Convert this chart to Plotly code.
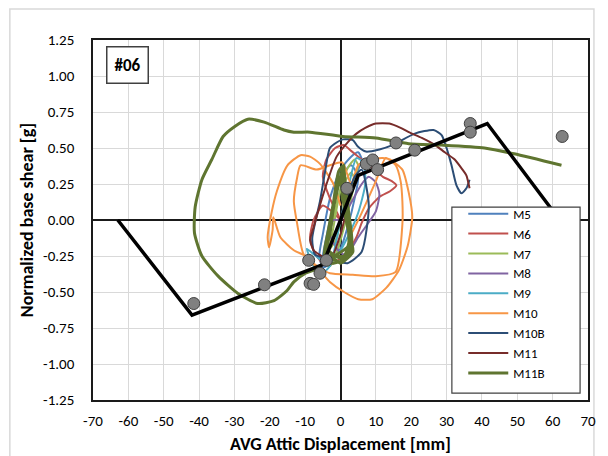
import plotly.graph_objects as go

# ---- data ----
series_names = ["M5", "M6", "M7", "M8", "M9", "M10", "M10B", "M11", "M11B"]
series_colors = ["#4F81BD", "#C0504D", "#9BBB59", "#8064A2", "#4BACC6",
                 "#F79646", "#2C4D75", "#772C2A", "#5F7530"]

m5_x = [0, 3, 5, 6, 5, 3, 0, -3, -5, -6, -5, -3, 0, 2, 4, 5, 3, 0, -2, -4, -5, -3, 0]
m5_y = [0, 0.2, 0.35, 0.42, 0.47, 0.44, 0.35, 0.15, -0.1, -0.25, -0.33, -0.3, -0.2,
        -0.05, 0.15, 0.3, 0.38, 0.3, 0.1, -0.12, -0.28, -0.32, -0.15]

m6_x = [0, -3, -5, -4, -1.5, 1, 3, 6, 9, 12, 14.5, 15.8, 14, 11, 8, 6, 4.5, 2, -2, -5,
        -7.5, -8.6, -7.6, -5, -2, 0]
m6_y = [0, 0.15, 0.3, 0.42, 0.5, 0.52, 0.48, 0.42, 0.36, 0.3, 0.27, 0.24, 0.2, 0.16,
        0.08, -0.02, -0.12, -0.22, -0.3, -0.3, -0.22, -0.12, 0.0, 0.1, 0.05, 0]

m7_x = [0, 2, 4, 5, 4, 2, 0, -2, -4, -4.5, -3, -1, 1, 3, 4, 3, 0, -2, -3, -1, 0]
m7_y = [0, 0.15, 0.3, 0.38, 0.42, 0.36, 0.22, 0.02, -0.18, -0.3, -0.32, -0.22, -0.05,
        0.15, 0.28, 0.33, 0.2, -0.05, -0.2, -0.12, 0]

m8_x = [0, 3, 6, 8, 10, 11, 10, 7, 5, 3, 1, -1, -3, -2, 0]
m8_y = [0, 0.12, 0.25, 0.3, 0.26, 0.18, 0.06, -0.05, -0.12, -0.2, -0.24, -0.2, -0.1, 0.0, 0]

m9_x = [0, 2, 4.5, 6.5, 7, 5, 2, -1, -4, -7, -9.5, -8, -5.8, -3, 0]
m9_y = [0, 0.2, 0.43, 0.40, 0.25, 0.05, -0.12, -0.25, -0.3, -0.25, -0.2, -0.3, -0.38, -0.32, 0]

m10_x = [0, -2, -5.8, -8.6, -11.3, -15, -18, -19.5, -20.6, -20.2, -19.2, -19, -17,
         -13.2, -9.9, -6, -3, 1, 5, 9, 13, 16.5, 19, 20.3, 19.3, 17.5, 14, 11.9, 8, 5,
         3, 0.5, -3, -6.7, -11.3, -12.3, -13.2, -12.3, -10.4, -6, -3, 3.5, 10, 15.6,
         17.5, 17.5, 17, 15.6, 12.8, 10, 6, 3]
m10_y = [0.1, 0.25, 0.39, 0.44, 0.45, 0.38, 0.2, 0.05, -0.12, -0.19, -0.07, 0.02, -0.12,
         -0.21, -0.25, -0.35, -0.43, -0.5, -0.55, -0.55, -0.47, -0.35, -0.18, 0.02, 0.19,
         0.35, 0.42, 0.43, 0.42, 0.38, 0.25, 0.4, 0.38, 0.35, 0.38, 0.29, 0.13, -0.02,
         -0.24, -0.33, -0.37, -0.38, -0.39, -0.36, -0.03, 0.13, 0.27, 0.38, 0.43, 0.27,
         0.05, -0.1]

m10b_x = [0, 4, 6, 8, 6, 2, -3, -7.2, -8, -5.8, -4.4, -3, -1, 0.7, 3.5, 4.9, 7.2, 11,
          14.7, 21, 26.3, 28.6, 30, 31.4, 32.8, 34.2, 35.6, 36.5]
m10b_y = [0, 0.3, 0.35, 0.1, -0.22, -0.3, -0.27, -0.24, -0.13, 0.13, 0.33, 0.5, 0.54,
          0.56, 0.555, 0.51, 0.475, 0.49, 0.52, 0.6, 0.625, 0.59, 0.5, 0.38, 0.24, 0.185,
          0.22, 0.28]

m11_x = [2, 0, -3, -6, -7.6, -8.6, -7.6, -4.8, -1.1, 2.6, 4.5, 7, 10, 13.8, 17, 19.3,
         23, 26.8, 29.5, 32.3, 34.5, 35.6, 36.5]
m11_y = [0.1, -0.1, -0.28, -0.24, -0.21, -0.14, -0.05, 0.185, 0.44, 0.555, 0.6, 0.64,
         0.67, 0.67, 0.64, 0.61, 0.57, 0.52, 0.47, 0.42, 0.35, 0.31, 0.22]

# M11B: dense narrow cycles in the middle, then the one big loop
m11b_x = [-1, -4.5, -3.5, -2, -0.5, 1, 0.5, 1.5, 2.5, 3, 0.5, -3.8, -3, -2, -0.8, 0,
          1.2, 1.5, 2, 2.2, -1, -4, -3.3, -2.5, -1.5, -0.5, 0.8, 1.8, 2.8, 1, -2, -4.2,
          -3, -2.2, -1.5, -0.2, 0.5, 1.2, 2, 3.5, 0, -2.5, -4.6, -3.8, -2.8, -1.2, 0.2,
          0.9, 1.5, 2.6, 3.2, 1.5, -2, -4.8, -6.7, -9.9, -13.2, -15.1, -18.8, -23.4,
          -29, -34.6, -39.2, -41.3, -41.1, -39.2, -36.4, -33.2, -29.9, -26.2, -21.6,
          -16, -13.2, -8.6, 0.7, 10, 19.3, 28.6, 40.7, 49.1, 62.5]
m11b_y = [-0.28, -0.25, -0.08, 0.12, 0.34, 0.38, 0.15, 0.08, -0.05, -0.2, -0.27, -0.2,
          -0.05, 0.12, 0.26, 0.3, 0.25, 0.1, 0.0, -0.18, -0.24, -0.28, -0.12, 0.02,
          0.14, 0.25, 0.33, 0.12, -0.1, -0.25, -0.25, -0.24, -0.1, 0.05, 0.16, 0.28,
          0.2, 0.05, -0.05, -0.22, -0.3, -0.26, -0.3, -0.18, -0.02, 0.18, 0.32, 0.36,
          0.2, 0.0, -0.15, -0.27, -0.3, -0.3, -0.34, -0.37, -0.43, -0.49, -0.56, -0.58,
          -0.51, -0.39, -0.25, -0.09, 0.09, 0.28, 0.42, 0.58, 0.65, 0.7, 0.68, 0.625,
          0.61, 0.61, 0.58, 0.57, 0.53, 0.52, 0.5, 0.46, 0.38]

series_x = [m5_x, m6_x, m7_x, m8_x, m9_x, m10_x, m10b_x, m11_x, m11b_x]
series_y = [m5_y, m6_y, m7_y, m8_y, m9_y, m10_y, m10b_y, m11_y, m11b_y]

# backbone curve and gray points
backbone_x = [-63, -42, -5, 5, 41.5, 62]
backbone_y = [0, -0.66, -0.31, 0.31, 0.67, 0]

points_x = [-41.5, -21.5, -9.0, -4.0, -5.8, -8.6, -7.6, 1.8, 7.3, 9.1, 10.5, 15.7,
            21.0, 36.7, 36.7, 62.7]
points_y = [-0.58, -0.45, -0.28, -0.28, -0.37, -0.44, -0.447, 0.22, 0.39, 0.417, 0.35,
            0.535, 0.485, 0.67, 0.61, 0.58]

x_ticks = [-70, -60, -50, -40, -30, -20, -10, 0, 10, 20, 30, 40, 50, 60, 70]
y_ticks = [-1.25, -1.0, -0.75, -0.5, -0.25, 0, 0.25, 0.5, 0.75, 1.0, 1.25]

font_fam = "Carlito, Lato, sans-serif"

fig = go.Figure()

for name, col, xs, ys in zip(series_names, series_colors, series_x, series_y):
    fig.add_trace(go.Scatter(
        x=xs, y=ys, mode='lines', name=name,
        line=dict(color=col, width=3 if name == "M11B" else 2, shape='spline', smoothing=0.6),
    ))

fig.add_trace(go.Scatter(
    x=backbone_x, y=backbone_y, mode='lines',
    line=dict(color='black', width=3.5),
    showlegend=False, hoverinfo='skip'
))
fig.add_trace(go.Scatter(
    x=points_x, y=points_y, mode='markers',
    marker=dict(size=12, color='#808080', line=dict(color='#404040', width=1)),
    showlegend=False, hoverinfo='skip'
))

axis_common = dict(
    showgrid=True, gridcolor='#D9D9D9', gridwidth=1,
    showline=True, linecolor='#1a1a1a', linewidth=1.5, mirror=True,
    zeroline=True, zerolinecolor='#1a1a1a', zerolinewidth=1.5,
    tickfont=dict(family=font_fam, size=15, color='black'),
    ticks='',
)

# the page body has an 8px margin, so the figure is 600x448 and sits at (8, 8)
fig.update_layout(
    width=600, height=448,
    margin=dict(l=85, r=13, t=32, b=56),
    paper_bgcolor='white', plot_bgcolor='white',
    showlegend=True,
    legend=dict(
        x=0.748, y=0.559, xanchor='left', yanchor='top',
        bgcolor='rgba(0,0,0,0)', borderwidth=0,
        font=dict(family=font_fam, size=13, color='black'),
        tracegroupgap=0, itemwidth=40,
    ),
    xaxis=dict(range=[-70, 70], tickvals=x_ticks,
               ticktext=[str(v) for v in x_ticks], ticklabelstandoff=6, **axis_common),
    yaxis=dict(range=[-1.25, 1.25], tickvals=y_ticks,
               ticktext=["%.2f" % v for v in y_ticks], ticklabelstandoff=14, **axis_common),
    shapes=[
        dict(type='rect', xref='paper', yref='paper',
             x0=-0.168, x1=1.012, y0=-0.3, y1=1.086,
             line=dict(color='#D9D9D9', width=1.5), layer='below'),
        # legend frame
        dict(type='rect', xref='paper', yref='paper',
             x0=0.725, x1=0.984, y0=0.019, y1=0.536,
             fillcolor='white', line=dict(color='#404040', width=1.2), layer='above'),
    ],
    annotations=[
        dict(text="<b>#06</b>", xref='paper', yref='paper', x=0.07, y=0.93,
             xanchor='center', yanchor='middle', showarrow=False,
             font=dict(family=font_fam, size=17, color='black'),
             bordercolor='#404040', borderwidth=1.5, borderpad=7, bgcolor='white'),
        dict(text="<b>AVG Attic Displacement [mm]</b>", xref='paper', yref='paper',
             x=0.5, y=-0.122, xanchor='center', yanchor='middle', showarrow=False,
             font=dict(family=font_fam, size=18, color='black')),
        dict(text="<b>Normalized base shear [g]</b>", xref='paper', yref='paper',
             x=-0.133, y=0.5, xanchor='center', yanchor='middle', showarrow=False,
             textangle=-90, font=dict(family=font_fam, size=18, color='black')),
    ],
)

fig.write_html("out.html")
